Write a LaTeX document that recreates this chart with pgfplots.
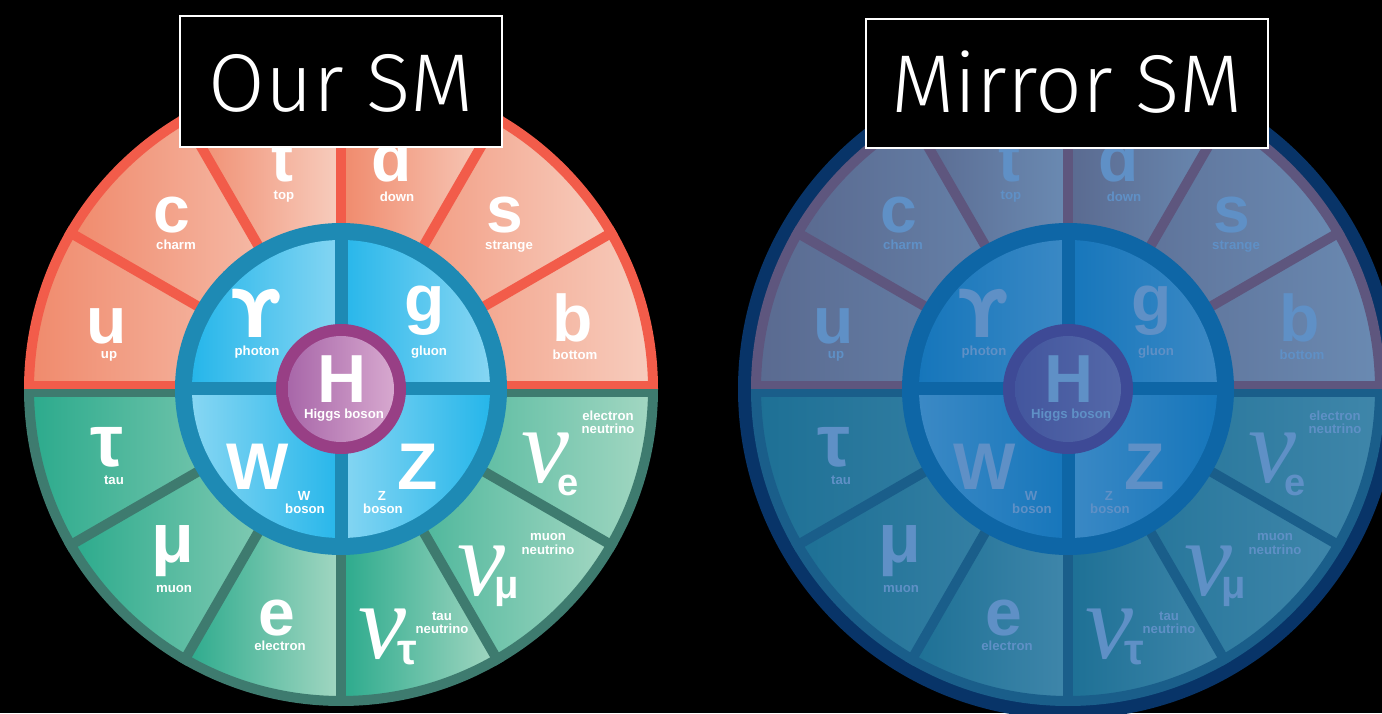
\RequirePackage{fix-cm}
\documentclass[border=0pt]{standalone}
\usepackage{pgfplots}
\pgfplotsset{compat=1.18}
\usepackage{fontspec}
\setmainfont{Liberation Sans}
\newfontfamily\dejavu{DejaVu Sans}
\newfontfamily\serifit{Liberation Serif}
\newfontfamily\titlefont{Fira Sans Light}

% left wheel colours
\definecolor{LtopL}{HTML}{F08A6C}\definecolor{LtopR}{HTML}{F7CDBE}\definecolor{LsepTop}{HTML}{F25C4A}
\definecolor{LbotL}{HTML}{2BAA8C}\definecolor{LbotR}{HTML}{A3D7C2}\definecolor{LsepBot}{HTML}{3E7B6F}
\definecolor{Lring}{HTML}{1E8AB4}\definecolor{LqD}{HTML}{26B6EA}\definecolor{LqL}{HTML}{86D6F3}
\definecolor{LhRing}{HTML}{983F85}\definecolor{LhL}{HTML}{A867A9}\definecolor{LhR}{HTML}{D7A8CF}
\definecolor{Ltxt}{HTML}{FFFFFF}
% mirror wheel colours
\definecolor{RtopL}{HTML}{5A6A90}\definecolor{RtopR}{HTML}{6A8AB2}\definecolor{RsepTop}{HTML}{5E567E}
\definecolor{RbotL}{HTML}{1D7095}\definecolor{RbotR}{HTML}{3F86AA}\definecolor{RsepBot}{HTML}{1A5E8A}
\definecolor{Rring}{HTML}{0E66A6}\definecolor{RqD}{HTML}{1676BB}\definecolor{RqL}{HTML}{3B89C5}
\definecolor{RhRing}{HTML}{3E4A96}\definecolor{RhL}{HTML}{43569E}\definecolor{RhR}{HTML}{5468A8}
\definecolor{Rtxt}{HTML}{5F90C6}
\definecolor{Rnavy}{HTML}{083468}

\newcommand\px{0.5pt}
% annular sector: cx, r1, r2, a1, a2, left colour, right colour
\newcommand\sector[7]{\shade[left color=#6, right color=#7] (axis cs:#1,-389) ++(#4:#3*\px) arc[start angle=#4,end angle=#5,radius=#3*\px] -- ++(#5+180:#3*\px-#2*\px) arc[start angle=#5,end angle=#4,radius=#2*\px] -- cycle;}
% pie: cx, r, a1, a2, left colour, right colour
\newcommand\pie[6]{\shade[left color=#5, right color=#6] (axis cs:#1,-389) -- ++(#3:#2*\px) arc[start angle=#3,end angle=#4,radius=#2*\px] -- cycle;}
% radial separator: cx, angle, colour
\newcommand\sep[3]{\draw[line width=5pt, #3] (axis cs:#1,-389) ++(#2:150*\px) -- ++(#2:167*\px);}
% label: cx, prefix, dx, baseline, size, text
\newcommand\lab[6]{\node[anchor=base, text=#2txt, inner sep=0pt, font=\bfseries\fontsize{#5}{#5}\selectfont] at (axis cs:#1+#3,-#4) {#6};}
\newcommand\nuglyph{{\serifit\mdseries\itshape ν}}

\newcommand\drawwheel[2]{%
 \sector{#1}{150}{312}{0}{30}{#2topL}{#2topR}
 \sector{#1}{150}{312}{30}{60}{#2topL}{#2topR}
 \sector{#1}{150}{312}{60}{90}{#2topL}{#2topR}
 \sector{#1}{150}{312}{90}{120}{#2topL}{#2topR}
 \sector{#1}{150}{312}{120}{150}{#2topL}{#2topR}
 \sector{#1}{150}{312}{150}{180}{#2topL}{#2topR}
 \sector{#1}{150}{312}{180}{210}{#2botL}{#2botR}
 \sector{#1}{150}{312}{210}{240}{#2botL}{#2botR}
 \sector{#1}{150}{312}{240}{270}{#2botL}{#2botR}
 \sector{#1}{150}{312}{270}{300}{#2botL}{#2botR}
 \sector{#1}{150}{312}{300}{330}{#2botL}{#2botR}
 \sector{#1}{150}{312}{330}{360}{#2botL}{#2botR}
 \sep{#1}{30}{#2sepTop}\sep{#1}{60}{#2sepTop}\sep{#1}{90}{#2sepTop}\sep{#1}{120}{#2sepTop}\sep{#1}{150}{#2sepTop}
 \sep{#1}{210}{#2sepBot}\sep{#1}{240}{#2sepBot}\sep{#1}{270}{#2sepBot}\sep{#1}{300}{#2sepBot}\sep{#1}{330}{#2sepBot}
 \draw[line width=5pt, #2sepTop] (axis cs:#1,-389) ++(0:312*\px) arc[start angle=0,end angle=180,radius=312*\px];
 \draw[line width=5pt, #2sepBot] (axis cs:#1,-389) ++(180:312*\px) arc[start angle=180,end angle=360,radius=312*\px];
 \draw[line width=4pt, #2sepTop] (axis cs:#1-317,-385) -- (axis cs:#1+317,-385);
 \draw[line width=4pt, #2sepBot] (axis cs:#1-317,-393) -- (axis cs:#1+317,-393);
 % gauge boson ring
 \fill[#2ring] (axis cs:#1,-389) circle[radius=166*\px];
 \pie{#1}{149}{90}{180}{#2qD}{#2qL}
 \pie{#1}{149}{0}{90}{#2qD}{#2qL}
 \pie{#1}{149}{180}{270}{#2qL}{#2qD}
 \pie{#1}{149}{270}{360}{#2qL}{#2qD}
 \draw[line width=6.5pt, #2ring] (axis cs:#1-155,-389) -- (axis cs:#1+155,-389);
 \draw[line width=6.5pt, #2ring] (axis cs:#1,-234) -- (axis cs:#1,-544);
 % Higgs
 \fill[#2hRing] (axis cs:#1,-389) circle[radius=65*\px];
 \shade[left color=#2hL, right color=#2hR] (axis cs:#1,-389) circle[radius=53*\px];
 % quark labels
 \lab{#1}{#2}{-234}{344}{33}{u}\lab{#1}{#2}{-232}{359}{6.6}{up}
 \lab{#1}{#2}{-169}{233}{33}{c}\lab{#1}{#2}{-165}{250}{6.6}{charm}
 \lab{#1}{#2}{-59}{182}{33}{t}\lab{#1}{#2}{-57}{200}{6.6}{top}
 \lab{#1}{#2}{51}{182}{33}{d}\lab{#1}{#2}{56}{202}{6.6}{down}
 \lab{#1}{#2}{164}{233}{33}{s}\lab{#1}{#2}{168}{250}{6.6}{strange}
 \lab{#1}{#2}{232}{342}{33}{b}\lab{#1}{#2}{234}{360}{6.6}{bottom}
 % bosons
 \lab{#1}{#2}{-85}{338}{33}{\dejavu ϒ}\lab{#1}{#2}{-84}{356}{6.6}{photon}
 \lab{#1}{#2}{84}{322}{33}{g}\lab{#1}{#2}{88}{356}{6.6}{gluon}
 \lab{#1}{#2}{1}{403}{34}{H}\lab{#1}{#2}{3}{419}{6.6}{Higgs boson}
 \lab{#1}{#2}{-83}{490}{33}{W}\lab{#1}{#2}{-37}{500}{6.6}{W}\lab{#1}{#2}{-36}{514}{6.6}{boson}
 \lab{#1}{#2}{77}{490}{33}{Z}\lab{#1}{#2}{41}{500}{6.6}{Z}\lab{#1}{#2}{42}{514}{6.6}{boson}
 % leptons
 \lab{#1}{#2}{-234}{467}{37}{τ}\lab{#1}{#2}{-227}{485}{6.6}{tau}
 \lab{#1}{#2}{-168}{562}{35}{μ}\lab{#1}{#2}{-167}{592}{6.6}{muon}
 \lab{#1}{#2}{-64}{635}{33}{e}\lab{#1}{#2}{-61}{650}{6.6}{electron}
 % neutrinos
 \lab{#1}{#2}{204}{483}{54}{\nuglyph}\lab{#1}{#2}{227}{495}{19}{e}
 \lab{#1}{#2}{267}{421}{6.6}{electron}\lab{#1}{#2}{267}{434}{6.6}{neutrino}
 \lab{#1}{#2}{140}{595}{54}{\nuglyph}\lab{#1}{#2}{166}{598}{20}{μ}
 \lab{#1}{#2}{207}{541}{6.6}{muon}\lab{#1}{#2}{207}{554}{6.6}{neutrino}
 \lab{#1}{#2}{41}{658}{54}{\nuglyph}\lab{#1}{#2}{66}{664}{22}{τ}
 \lab{#1}{#2}{101}{620}{6.6}{tau}\lab{#1}{#2}{101}{633}{6.6}{neutrino}
}

\begin{document}
\begin{tikzpicture}
\begin{axis}[width=691pt, height=356.5pt, scale only axis,
  xmin=0, xmax=1382, ymin=-713, ymax=0, hide axis, clip=true]
\fill[black] (axis cs:0,0) rectangle (axis cs:1382,-713);
\addplot[draw=none] coordinates {(0,0) (1382,-713)};
\drawwheel{341}{L}
\fill[Rnavy] (axis cs:1068,-389) circle[radius=330*\px];
\drawwheel{1068}{R}
% titles
\draw[draw=white, line width=1pt, fill=black] (axis cs:180,-16) rectangle (axis cs:502,-147);
\node[anchor=base, text=white, inner sep=0pt, font=\titlefont\fontsize{41}{41}\selectfont] at (axis cs:341,-112) {Our SM};
\draw[draw=white, line width=1pt, fill=black] (axis cs:866,-19) rectangle (axis cs:1268,-148);
\node[anchor=base, text=white, inner sep=0pt, font=\titlefont\fontsize{41}{41}\selectfont] at (axis cs:1067,-113) {Mirror SM};
\end{axis}
\end{tikzpicture}
\end{document}
